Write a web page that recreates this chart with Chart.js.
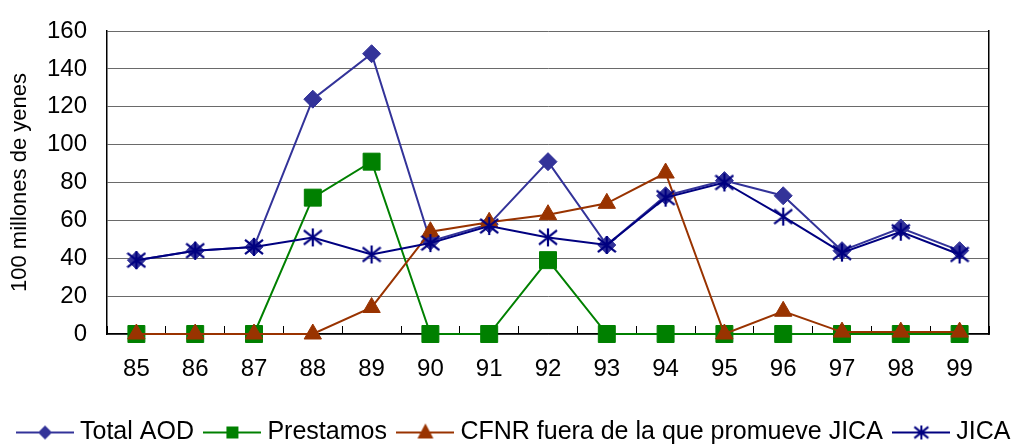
<!DOCTYPE html>
<html>
<head>
<meta charset="utf-8">
<script src="https://cdn.jsdelivr.net/npm/chart.js@4/dist/chart.umd.min.js"></script>
<style>
html,body{margin:0;padding:0;background:#fff;}
#wrap{width:1033px;height:444px;}
</style>
</head>
<body>
<div id="wrap"><canvas id="c" width="1033" height="444"></canvas></div>
<script>
const categories = ['85','86','87','88','89','90','91','92','93','94','95','96','97','98','99'];
const totalAOD   = [39, 44, 46, 124, 148, 49, 58, 91, 47, 73, 81, 73, 44, 56, 44];
const prestamos  = [0, 0, 0, 72, 91, 0, 0, 39, 0, 0, 0, 0, 0, 0, 0];
const cfnr       = [0, 0, 0, 0, 14, 54, 59, 63, 69, 85, 0, 12, 1, 1, 1];
const jica       = [39, 44, 46, 51, 42, 48, 57, 51, 47, 72, 80, 62, 43, 54, 42];
const seriesNames = ['Total AOD', 'Prestamos', 'CFNR fuera de la que promueve JICA', 'JICA'];
const yAxisTitle = '100 millones de yenes';

const FONT = "'Liberation Sans', Arial, sans-serif";
const C_AOD = '#333399', C_PRE = '#008000', C_CFNR = '#993300', C_JICA = '#000080';

function drawStar(ctx, cx, cy, h, color, lw) {
  ctx.strokeStyle = color; ctx.lineWidth = lw; ctx.lineCap = 'butt';
  ctx.beginPath();
  ctx.moveTo(cx, cy - h); ctx.lineTo(cx, cy + h);
  ctx.moveTo(cx - h, cy - h * 0.8); ctx.lineTo(cx + h, cy + h * 0.8);
  ctx.moveTo(cx - h, cy + h * 0.8); ctx.lineTo(cx + h, cy - h * 0.8);
  ctx.stroke();
}
function starImage(size, color, lw) {
  const c = document.createElement('canvas');
  c.width = size; c.height = size;
  drawStar(c.getContext('2d'), size / 2, size / 2, size / 2 - 1, color, lw);
  return c;
}
function legendImage(color, kind) {
  const w = 58, h = 22;
  const c = document.createElement('canvas');
  c.width = w; c.height = h;
  const ctx = c.getContext('2d');
  const cy = h / 2, cx = w / 2;
  ctx.strokeStyle = color; ctx.lineWidth = 2;
  ctx.beginPath(); ctx.moveTo(0, cy); ctx.lineTo(w, cy); ctx.stroke();
  ctx.fillStyle = color;
  ctx.beginPath();
  if (kind === 'diamond') {
    ctx.moveTo(cx, cy - 7); ctx.lineTo(cx + 7, cy); ctx.lineTo(cx, cy + 7); ctx.lineTo(cx - 7, cy); ctx.closePath(); ctx.fill();
  } else if (kind === 'square') {
    ctx.rect(cx - 6, cy - 6, 12, 12); ctx.fill();
  } else if (kind === 'triangle') {
    ctx.moveTo(cx, cy - 9); ctx.lineTo(cx + 8, cy + 6); ctx.lineTo(cx - 8, cy + 6); ctx.closePath(); ctx.fill();
  } else if (kind === 'star') {
    drawStar(ctx, cx, cy, 7, color, 2);
  }
  return c;
}

const jicaStar = starImage(20, C_JICA, 2.2);
const legendImgs = [
  legendImage(C_AOD, 'diamond'),
  legendImage(C_PRE, 'square'),
  legendImage(C_CFNR, 'triangle'),
  legendImage(C_JICA, 'star')
];
const seriesValues = [totalAOD, prestamos, cfnr, jica];
const seriesColors = [C_AOD, C_PRE, C_CFNR, C_JICA];
const seriesStyles = ['rectRot', 'rect', 'triangle', jicaStar];
const seriesRadius = [9, 12, 10, 10];

const datasets = seriesNames.map((name, i) => ({
  label: name,
  data: seriesValues[i],
  borderColor: seriesColors[i],
  backgroundColor: seriesColors[i],
  borderWidth: 2,
  pointStyle: seriesStyles[i],
  pointRadius: seriesRadius[i],
  pointHoverRadius: seriesRadius[i],
  pointBorderWidth: 1,
  pointBorderColor: seriesColors[i],
  pointBackgroundColor: seriesColors[i],
  tension: 0,
  fill: false,
  clip: false,
  order: 4 - i
}));

new Chart(document.getElementById('c'), {
  type: 'line',
  data: { labels: categories, datasets },
  options: {
    responsive: false,
    animation: false,
    devicePixelRatio: 1,
    layout: { padding: { top: 31, left: 0, right: 0, bottom: -11 } },
    plugins: {
      tooltip: { enabled: false },
      legend: {
        position: 'bottom',
        labels: {
          usePointStyle: true,
          pointStyleWidth: 45,
          padding: 16,
          color: '#000',
          font: { family: FONT, size: 25 },
          sort: (a, b) => a.datasetIndex - b.datasetIndex,
          generateLabels: (chart) => chart.data.datasets.map((ds, i) => ({
            text: ds.label,
            pointStyle: legendImgs[i],
            fillStyle: ds.borderColor,
            strokeStyle: ds.borderColor,
            fontColor: '#000',
            lineWidth: 0,
            hidden: false,
            datasetIndex: i
          }))
        }
      }
    },
    scales: {
      x: {
        type: 'category',
        offset: true,
        grid: { display: true, offset: true, drawOnChartArea: false, drawTicks: true, tickLength: -8, color: '#000', lineWidth: 1 },
        border: { display: true, color: '#000', width: 1.5 },
        ticks: { color: '#000', font: { family: FONT, size: 24 }, padding: 29, maxRotation: 0, autoSkip: false },
        afterFit: (s) => { s.height = 70; }
      },
      y: {
        position: 'left',
        min: 0, max: 160,
        ticks: { stepSize: 20, color: '#000', font: { family: FONT, size: 24 }, padding: 2 },
        grid: { color: '#6a6a6a', lineWidth: 1, drawTicks: true, tickLength: 18, tickColor: 'rgba(0,0,0,0)' },
        border: { display: true, color: '#000', width: 1.5 },
        title: { display: true, text: yAxisTitle, color: '#000', font: { family: FONT, size: 22 }, padding: { top: 7, bottom: 0 } },
        afterFit: (s) => { s.width = 107; }
      },
      yRight: {
        position: 'right',
        min: 0, max: 160,
        ticks: { display: false },
        grid: { display: true, drawOnChartArea: false, drawTicks: false },
        border: { display: true, color: '#000', width: 1.5 },
        afterFit: (s) => { s.width = 44; }
      }
    }
  }
});
</script>
</body>
</html>
